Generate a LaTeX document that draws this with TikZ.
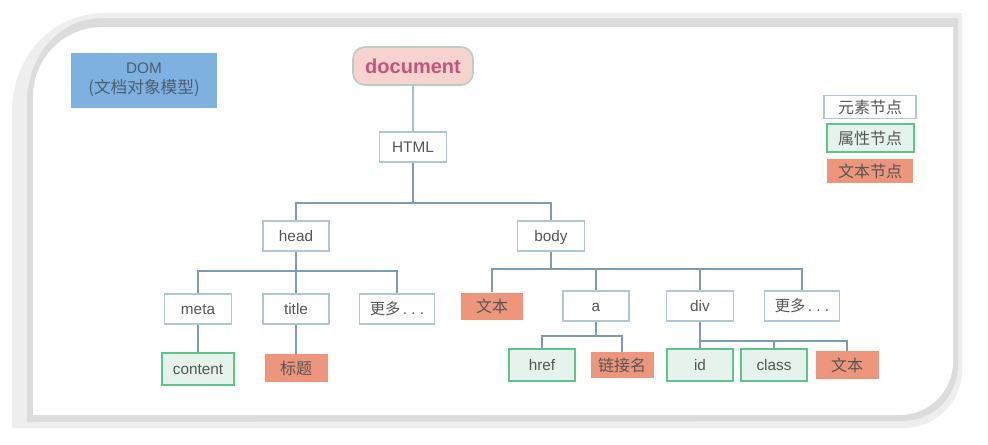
\documentclass[tikz,border=0pt]{standalone}
\usepackage{fontspec}
\setmainfont{Liberation Sans}
\newfontfamily\cjk{Noto Sans CJK SC}
\definecolor{lineC}{HTML}{7D9BB2}
\definecolor{lineL}{HTML}{A5C0D2}
\definecolor{elemB}{HTML}{AFC7D3}
\definecolor{attrB}{HTML}{5EC48C}
\definecolor{attrF}{HTML}{E5F3EC}
\definecolor{textF}{HTML}{EE967B}
\definecolor{txtC}{HTML}{555555}
\definecolor{domF}{HTML}{7EB0E0}
\definecolor{domT}{HTML}{4B5F73}
\definecolor{docF}{HTML}{F6D3CF}
\definecolor{docB}{HTML}{B8CFC0}
\definecolor{docT}{HTML}{C4547E}
\definecolor{shA}{HTML}{EEEEEE}
\definecolor{shB}{HTML}{DCDCDC}
\newcommand\mydots{.\hspace{0.28em}.\hspace{0.28em}.}
\begin{document}
\begin{tikzpicture}[x=0.75pt,y=-0.75pt,
  sz/.style 2 args={minimum width=#1*0.75pt, minimum height=#2*0.75pt},
  base/.style={inner sep=0pt, text=txtC, text height=10pt, text depth=1.8pt, font=\fontsize{11.5pt}{13pt}\selectfont},
  elem/.style={base, draw=elemB, line width=1.2pt, fill=white},
  attr/.style={base, draw=attrB, line width=1.5pt, fill=attrF},
  zh/.style={font=\cjk\fontsize{12pt}{14pt}\selectfont, text height=10.8pt, text depth=1.4pt},
  tnode/.style={base, fill=textF, zh},
  conn/.style={draw=lineC, line width=1.2pt},
  connL/.style={draw=lineL, line width=1.5pt}]
\useasboundingbox (0,0) rectangle (988,444);
\fill[white] (0,0) rectangle (988,444);
% card shadow and card
\fill[shA] (12,428) -- (12,112) .. controls (12,58) and (50,13) .. (106,13) -- (962,13) -- (962,370) .. controls (962,402) and (936,428) .. (904,428) -- cycle;
\fill[shB] (27,422) -- (27,104) .. controls (27,56) and (58,18) .. (104,18) -- (958,18) -- (958,364) .. controls (958,396) and (934,421) .. (902,421) -- cycle;
\fill[white] (33,415) -- (33,97) .. controls (33,58) and (64,27) .. (103,27) -- (953,27) -- (953,362) .. controls (953,391) and (929,415) .. (900,415) -- cycle;

% nodes
\node[inner sep=0pt, fill=domF, text=domT, sz={146}{55}, align=center, font=\fontsize{11.5pt}{15pt}\selectfont] (dom) at (144,80) {DOM\\{\cjk\fontsize{12.5pt}{15pt}\selectfont (文档对象模型)}};
\node[base, fill=docF, draw=docB, line width=1.2pt, rounded corners=9pt, sz={120}{38}, text=docT, text height=13pt, text depth=2.2pt, font=\bfseries\fontsize{15pt}{17pt}\selectfont] (doc) at (413,66) {document};
\node[elem, sz={67}{30}] (html) at (413,147) {HTML};
\node[elem, sz={66}{30}] (head) at (296,236) {head};
\node[elem, sz={67}{30}] (body) at (551,236) {body};
\node[elem, sz={67}{30}] (meta) at (198,309) {meta};
\node[elem, sz={66}{30}] (title) at (296,309) {title};
\node[elem, sz={75}{30}] (more1) at (397,309) {{\cjk 更多}\hspace{0.15em}\mydots};
\node[attr, sz={72}{32}] (content) at (198,369) {content};
\node[tnode, sz={63}{28}] (biaoti) at (296,368) {标题};
\node[tnode, sz={62}{27}] (txt1) at (492,306) {文本};
\node[elem, sz={66}{30}] (a) at (596,306) {a};
\node[elem, sz={67}{30}] (div) at (700,306) {div};
\node[elem, sz={75}{30}] (more2) at (802,306) {{\cjk 更多}\hspace{0.15em}\mydots};
\node[attr, sz={66}{32}] (href) at (542,365) {href};
\node[tnode, sz={63}{26}] (link) at (622,365) {链接名};
\node[attr, sz={66}{32}] (id) at (700,365) {id};
\node[attr, sz={66}{32}] (cls) at (774,365) {class};
\node[tnode, sz={63}{28}] (txt2) at (847,365) {文本};
% legend
\node[elem, zh, sz={92}{23}] (leg1) at (870,107) {元素节点};
\node[attr, zh, sz={87}{28}] (leg2) at (870,138) {属性节点};
\node[tnode, sz={86}{24}] (leg3) at (870,171) {文本节点};

% connectors
\coordinate (b1) at (413,203);
\coordinate (b2) at (296,271);
\coordinate (b3) at (551,269);
\coordinate (b4) at (596,336);
\coordinate (b5) at (700,341);
\draw[connL] (doc) -- (html);
\draw[conn] (html) -- (b1);
\draw[conn] (head.north) |- (b1) -| (body.north);
\draw[conn] (head) -- (title);
\draw[conn] (meta.north) |- (b2) -| (more1.north);
\draw[conn] (meta) -- (content);
\draw[conn] (title) -- (biaoti);
\draw[conn] (body) -- (b3);
\draw[conn] (txt1.north) |- (b3) -| (more2.north);
\draw[conn] (a.north) |- (b3);
\draw[conn] (div.north) |- (b3);
\draw[conn] (a) -- (b4);
\draw[conn] (href.north) |- (b4) -| (link.north);
\draw[conn] (div) -- (id);
\draw[conn] (b5) -| (cls.north);
\draw[conn] (b5) -| (txt2.north);
\end{tikzpicture}
\end{document}
